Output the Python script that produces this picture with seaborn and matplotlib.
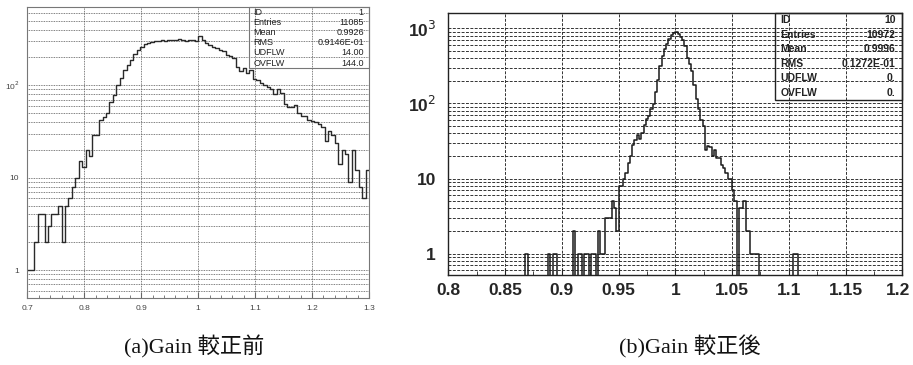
import matplotlib

matplotlib.use("Agg")

import matplotlib.pyplot as plt
import matplotlib.ticker as mticker
import matplotlib.transforms as mtransforms
from matplotlib.patches import Rectangle

import numpy as np
import pandas as pd
import seaborn as sns


# (a) before gain calibration: 100 bins from 0.7 to 1.3
range_a = (0.7, 1.3)
nbins_a = 100
counts_a = [
    1, 1, 2, 4, 4, 2, 3, 4, 4, 5,
    2, 5, 6, 8, 10, 15, 13, 20, 17, 29,
    29, 42, 45, 50, 66, 78, 101, 119, 147, 165,
    188, 215, 240, 260, 280, 285, 295, 300, 300, 305,
    300, 310, 312, 305, 318, 312, 300, 310, 305, 300,
    340, 310, 285, 275, 262, 255, 240, 232, 214, 205,
    197, 159, 141, 155, 135, 145, 118, 114, 105, 100,
    95, 92, 80, 90, 83, 62, 58, 58, 61, 50,
    47, 46, 42, 41, 40, 38, 35, 25, 32, 29,
    24, 14, 20, 18, 9, 20, 12, 8, 6, 12,
]
stats_a = [
    ("ID", "1"),
    ("Entries", "11085"),
    ("Mean", "0.9926"),
    ("RMS", "0.9146E-01"),
    ("UDFLW", "14.00"),
    ("OVFLW", "144.0"),
]

# (b) after gain calibration: 200 bins from 0.8 to 1.2
range_b = (0.8, 1.2)
nbins_b = 200
counts_b = [
    0, 0, 0, 0, 0, 0, 0, 0, 0, 0,
    0, 0, 0, 0, 0, 0, 0, 0, 0, 0,
    0, 0, 0, 0, 0, 0, 0, 0, 0, 0,
    0, 0, 0, 0, 1, 0, 0, 0, 0, 0,
    0, 0, 0, 0, 1, 0, 1, 1, 0, 0,
    0, 0, 0, 0, 0, 2, 0, 1, 1, 0,
    1, 1, 0, 1, 1, 0, 2, 1, 1, 3,
    3, 3, 5, 4, 2, 8, 8, 10, 12, 16,
    20, 28, 33, 38, 34, 41, 52, 62, 69, 85,
    99, 144, 207, 312, 426, 527, 620, 720, 805, 870,
    890, 850, 760, 690, 590, 405, 330, 267, 176, 116,
    85, 60, 50, 24, 27, 26, 20, 24, 19, 19,
    15, 14, 12, 10, 10, 7, 5, 0, 4, 4,
    5, 2, 2, 1, 1, 1, 1, 0, 0, 0,
    0, 0, 0, 0, 0, 0, 0, 0, 0, 0,
    0, 0, 1, 1, 0, 0, 0, 0, 0, 0,
    0, 0, 0, 0, 0, 0, 0, 0, 0, 0,
    0, 0, 0, 0, 0, 0, 0, 0, 0, 0,
    0, 0, 0, 0, 0, 0, 0, 0, 0, 0,
    0, 0, 0, 0, 0, 0, 0, 0, 0, 0,
]
stats_b = [
    ("ID", "10"),
    ("Entries", "10972"),
    ("Mean", "0.9996"),
    ("RMS", "0.1272E-01"),
    ("UDFLW", "0."),
    ("OVFLW", "0."),
]

captions = ["(a)Gain 較正前", "(b)Gain 較正後"]


def log_label(v, pos):
    if v < 5:
        return "1"
    if v < 50:
        return "10"
    return "10$^{%d}$" % int(round(np.log10(v)))


def draw_hist(ax, rng, nbins, counts, color, lw):
    edges = np.linspace(rng[0], rng[1], nbins + 1)
    df = pd.DataFrame({"gain": (edges[:-1] + edges[1:]) / 2, "n": counts})
    sns.histplot(
        data=df, x="gain", weights="n", bins=nbins, binrange=rng,
        element="step", fill=False, color=color, linewidth=lw, ax=ax,
    )
    ax.set_yscale("log")
    ax.set_xlabel("")
    ax.set_ylabel("")
    ax.set_xlim(rng)


def stats_box(ax, rows, x0, y0, fs, weight, ec, lw, family=None):
    ax.add_patch(Rectangle((x0, y0), 1 - x0, 1 - y0, transform=ax.transAxes,
                           fill=False, ec=ec, lw=lw, clip_on=False, zorder=5))
    step = (1 - y0) / len(rows)
    kw = dict(transform=ax.transAxes, fontsize=fs, fontweight=weight,
              va="center", color="#222")
    if family:
        kw["family"] = family
    for i, (k, v) in enumerate(rows):
        y = 1 - step * (i + 0.5)
        ax.text(x0 + 0.012, y, k, ha="left", **kw)
        ax.text(0.985, y, v, ha="right", **kw)


sns.set_style("white")
plt.rcParams["font.family"] = ["Liberation Sans", "DejaVu Sans"]
narrow = ["Liberation Sans Narrow", "Liberation Sans", "DejaVu Sans"]

fig = plt.figure(figsize=(9.13, 3.65), dpi=100)

# ---- left panel (a) ----
ax1 = fig.add_axes([0.0301, 0.1836, 0.374, 0.797])
draw_hist(ax1, range_a, nbins_a, counts_a, "#2a2a2a", 1.0)
ax1.set_ylim(0.5, 700)
ax1.xaxis.set_major_locator(mticker.MultipleLocator(0.1))
ax1.xaxis.set_minor_locator(mticker.MultipleLocator(0.02))
ax1.xaxis.set_major_formatter(mticker.FuncFormatter(lambda v, p: "%g" % round(v, 3)))
ax1.yaxis.set_major_locator(mticker.LogLocator(base=10))
ax1.yaxis.set_minor_locator(mticker.LogLocator(base=10, subs=np.arange(2, 10)))
ax1.yaxis.set_major_formatter(mticker.FuncFormatter(log_label))
ax1.yaxis.set_minor_formatter(mticker.NullFormatter())
ax1.tick_params(axis="x", which="both", direction="in", bottom=True, top=False,
                labelsize=6, labelcolor="#444", color="#666", pad=5)
ax1.tick_params(axis="x", which="major", length=4)
ax1.tick_params(axis="x", which="minor", length=2.5)
ax1.tick_params(axis="y", which="both", length=0, labelsize=6, labelcolor="#444", pad=6)
ax1.grid(True, which="both", axis="y", ls=(0, (1, 1)), color="#555", lw=0.6)
ax1.grid(True, which="major", axis="x", ls=(0, (1, 1)), color="#555", lw=0.6)
for s in ax1.spines.values():
    s.set_color("#777")
    s.set_linewidth(0.8)
stats_box(ax1, stats_a, 0.649, 0.79, 6.5, "normal", "#777", 0.8)

# ---- right panel (b) ----
ax2 = fig.add_axes([0.491, 0.2466, 0.4973, 0.7178])
draw_hist(ax2, range_b, nbins_b, counts_b, "#1a1a1a", 1.1)
ax2.set_ylim(0.52, 1600)
ax2.xaxis.set_major_locator(mticker.MultipleLocator(0.05))
ax2.xaxis.set_minor_locator(mticker.MultipleLocator(0.025))
ax2.xaxis.set_major_formatter(mticker.FuncFormatter(lambda v, p: "%g" % round(v, 3)))
ax2.yaxis.set_major_locator(mticker.LogLocator(base=10))
ax2.yaxis.set_minor_locator(mticker.LogLocator(base=10, subs=np.arange(2, 10)))
ax2.yaxis.set_major_formatter(mticker.FuncFormatter(log_label))
ax2.yaxis.set_minor_formatter(mticker.NullFormatter())
ax2.tick_params(axis="x", which="both", direction="in", bottom=True, top=False,
                labelsize=12.5, color="#222", pad=6)
ax2.tick_params(axis="x", which="major", length=5)
ax2.tick_params(axis="x", which="minor", length=3)
ax2.tick_params(axis="y", which="both", length=0, labelsize=12.5, pad=9)
fig.canvas.draw()
for lab in ax2.get_xticklabels() + ax2.get_yticklabels():
    lab.set_family(narrow)
    lab.set_fontweight("bold")
# keep the last x label (1.2) inside the picture, as in the reference
last = [t for t in ax2.get_xticklabels() if t.get_text() == "1.2"]
for t in last:
    t.set_transform(t.get_transform() + mtransforms.ScaledTranslation(-4 / 100, 0, fig.dpi_scale_trans))
ax2.grid(True, which="both", axis="y", ls=(0, (3, 1.5)), color="#333", lw=0.7)
ax2.grid(True, which="major", axis="x", ls=(0, (3, 1.5)), color="#333", lw=0.7)
for s in ax2.spines.values():
    s.set_color("#222")
    s.set_linewidth(1.0)
stats_box(ax2, stats_b, 0.72, 0.668, 7.5, "bold", "#222", 1.0, family=narrow)

# ---- captions ----
cap_font = ["Liberation Serif", "Noto Sans CJK JP"]
fig.text(194 / 913, 1 - 347 / 365, captions[0], ha="center", va="center",
         fontsize=16, family=cap_font, color="#111")
fig.text(690 / 913, 1 - 347 / 365, captions[1], ha="center", va="center",
         fontsize=16, family=cap_font, color="#111")

fig.savefig("out.png", dpi=100)
